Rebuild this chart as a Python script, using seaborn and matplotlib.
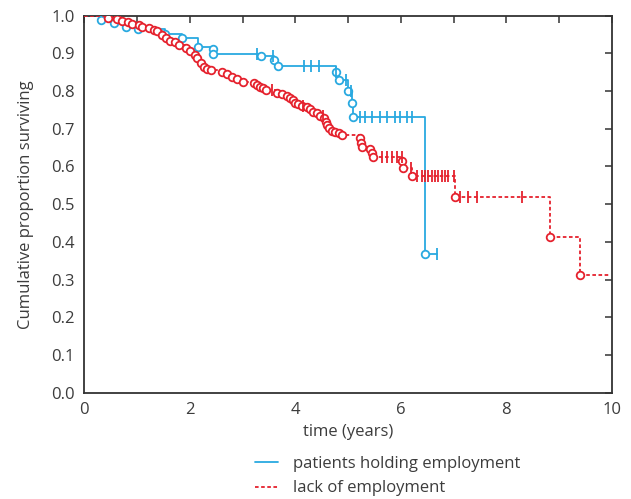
import numpy as np
import pandas as pd
import matplotlib
matplotlib.use("Agg")
import matplotlib.pyplot as plt
from matplotlib.lines import Line2D
import seaborn as sns

# ---------------- data ----------------
blue_event_t = [0.31, 0.56, 0.78, 1.02, 1.53, 1.85, 2.15, 2.43, 2.44, 3.34, 3.60, 3.68,
                4.78, 4.82, 4.99, 5.08, 5.10, 6.46]
blue_event_s = [0.989, 0.981, 0.970, 0.964, 0.950, 0.941, 0.917, 0.912, 0.897, 0.894, 0.881, 0.867,
                0.850, 0.828, 0.801, 0.769, 0.731, 0.368]
blue_censor_t = [3.27, 3.58, 4.16, 4.29, 4.45, 4.78, 4.97, 5.06, 5.23, 5.32, 5.46, 5.61,
                 5.74, 5.89, 5.99, 6.12, 6.21, 6.69]
blue_end = 6.69

red_event_t = [0.45, 0.61, 0.71, 0.83, 0.90, 1.04, 1.09, 1.23, 1.32, 1.37, 1.47, 1.55, 1.62,
               1.72, 1.80, 1.93, 2.00, 2.10, 2.14, 2.21, 2.27, 2.32, 2.41, 2.60, 2.70, 2.79,
               2.90, 3.01, 3.22, 3.27, 3.33, 3.38, 3.44, 3.65, 3.74, 3.84, 3.90, 3.95, 3.99,
               4.06, 4.12, 4.22, 4.28, 4.34, 4.42, 4.47, 4.54, 4.58, 4.61, 4.64, 4.69, 4.75,
               4.82, 4.88, 5.23, 5.24, 5.26, 5.42, 5.45, 5.48, 6.03, 6.05, 6.21, 7.03, 8.83, 9.40]
red_event_s = [0.993, 0.990, 0.987, 0.982, 0.978, 0.975, 0.969, 0.966, 0.962, 0.958, 0.949, 0.940,
               0.934, 0.929, 0.922, 0.914, 0.905, 0.896, 0.887, 0.874, 0.865, 0.859, 0.856, 0.851,
               0.845, 0.838, 0.831, 0.825, 0.822, 0.816, 0.810, 0.807, 0.803, 0.796, 0.792, 0.787,
               0.781, 0.776, 0.769, 0.766, 0.760, 0.757, 0.752, 0.745, 0.741, 0.734, 0.728, 0.719,
               0.710, 0.701, 0.695, 0.692, 0.688, 0.684, 0.675, 0.663, 0.651, 0.646, 0.635, 0.624,
               0.615, 0.595, 0.575, 0.518, 0.414, 0.312]
red_censor_t = [3.55, 4.15, 4.53, 5.64, 5.73, 5.83, 5.92, 6.02, 6.19, 6.30, 6.40, 6.46, 6.52,
                6.59, 6.65, 6.71, 6.78, 6.84, 6.90, 7.00, 7.12, 7.28, 7.45, 8.29]
red_end = 9.94

labels = ["patients holding employment", "lack of employment"]
x_tick_vals = list(range(0, 11))
x_tick_labels = ["0", "", "2", "", "4", "", "6", "", "8", "", "10"]
y_tick_vals = [round(0.1 * i, 1) for i in range(11)]

BLUE = "#29A9E0"
RED = "#E5212D"
TXT = "#3c3c3c"

# ---------------- helpers ----------------
def step_frame(ev_t, ev_s, end):
    x = [0.0] + list(ev_t) + [end]
    y = [1.0] + list(ev_s) + [ev_s[-1]]
    return pd.DataFrame({"t": x, "s": y})


def censor_frame(ev_t, ev_s, cens_t):
    ev_t = np.asarray(ev_t)
    ev_s = np.asarray(ev_s)
    lv = []
    for t in cens_t:
        idx = np.searchsorted(ev_t, t, side="right") - 1
        lv.append(1.0 if idx < 0 else ev_s[idx])
    return pd.DataFrame({"t": cens_t, "s": lv})


sns.set_style("white")
plt.rcParams["font.family"] = ["Open Sans", "DejaVu Sans"]

fig = plt.figure(figsize=(6.31, 4.99), dpi=100)
ax = fig.add_axes([0.1338, 0.213, 0.9694 - 0.1338, 0.9687 - 0.213])

blue_step = step_frame(blue_event_t, blue_event_s, blue_end)
red_step = step_frame(red_event_t, red_event_s, red_end)

sns.lineplot(data=blue_step, x="t", y="s", drawstyle="steps-post", estimator=None,
             sort=False, color=BLUE, lw=1.3, ax=ax, zorder=2)
sns.lineplot(data=red_step, x="t", y="s", drawstyle="steps-post", estimator=None,
             sort=False, color=RED, lw=1.3, ax=ax, zorder=4)
ax.lines[-1].set_dashes([2, 1.4])

# events (open circles)
sns.scatterplot(x=blue_event_t, y=blue_event_s, marker="o", s=30, facecolor="white",
                edgecolor=BLUE, linewidth=1.3, ax=ax, zorder=3)
sns.scatterplot(x=red_event_t, y=red_event_s, marker="o", s=30, facecolor="white",
                edgecolor=RED, linewidth=1.3, ax=ax, zorder=5)

# censored (vertical ticks)
bc = censor_frame(blue_event_t, blue_event_s, blue_censor_t)
rc = censor_frame(red_event_t, red_event_s, red_censor_t)
ax.plot(bc["t"], bc["s"], linestyle="none", marker="|", markersize=8.5, mew=1.3, color=BLUE, zorder=3)
ax.plot(rc["t"], rc["s"], linestyle="none", marker="|", markersize=8.5, mew=1.3, color=RED, zorder=5)

# axes styling
ax.set_xlim(0, 10)
ax.set_ylim(0, 1.0)
ax.set_xticks(x_tick_vals)
ax.set_xticklabels(x_tick_labels)
ax.set_yticks(y_tick_vals)
ax.set_yticklabels([f"{v:.1f}" for v in y_tick_vals])
ax.tick_params(axis="both", direction="in", length=5, width=1.1, color="#333333",
               labelsize=12, labelcolor=TXT, top=True, right=True)
ax.tick_params(axis="y", pad=7)
ax.tick_params(axis="x", pad=7)
for sp in ax.spines.values():
    sp.set_visible(True)
    sp.set_color("#333333")
    sp.set_linewidth(1.3)

ax.set_xlabel("time (years)", fontsize=12, color=TXT, labelpad=4)
ax.set_ylabel("Cumulative proportion surviving", fontsize=12, color=TXT, labelpad=12)

handles = [Line2D([0], [0], color=BLUE, lw=1.3),
           Line2D([0], [0], color=RED, lw=1.3, dashes=[2, 1.4])]
fig.legend(handles, labels, loc="upper left", bbox_to_anchor=(0.404, 0.086),
           frameon=False, fontsize=12, handlelength=1.4, handletextpad=0.9,
           labelspacing=0.5, borderpad=0, borderaxespad=0, labelcolor=TXT)

fig.savefig("out.png", dpi=100)
